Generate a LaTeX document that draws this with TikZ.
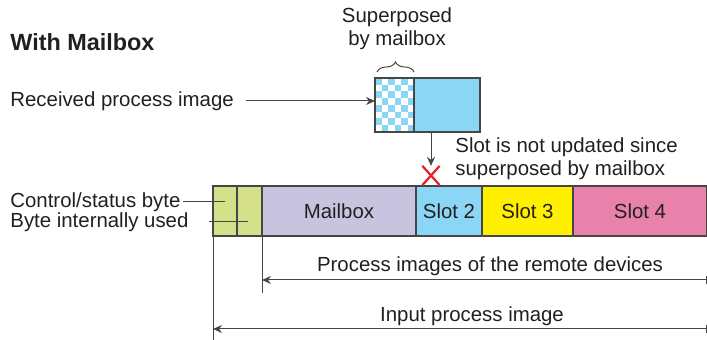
\documentclass[tikz,border=0pt]{standalone}
\usepackage{fontspec}
\setmainfont{Liberation Sans}
\usetikzlibrary{arrows.meta,decorations.pathreplacing,shapes.misc}

\definecolor{txtgray}{RGB}{35,31,32}
\definecolor{linegray}{RGB}{70,70,70}
\definecolor{ctrlgreen}{RGB}{212,224,138}
\definecolor{mailviolet}{RGB}{200,196,224}
\definecolor{slotblue}{RGB}{140,214,245}
\definecolor{slotyellow}{RGB}{255,240,0}
\definecolor{slotpink}{RGB}{232,130,170}
\definecolor{xred}{RGB}{230,30,40}

\tikzset{
  txt/.style={text=txtgray, inner sep=0pt, font=\fontsize{10.2}{11.5}\selectfont},
  cell/.style={draw=linegray, line width=0.6pt, minimum height=25pt, inner sep=0pt, outer sep=0pt,
    anchor=north west, text=txtgray, font=\fontsize{10.2}{11.5}\selectfont},
  conn/.style={draw=linegray, line width=0.5pt},
  arr/.style={conn, -{Stealth[length=4.5pt,width=4pt]}},
}

\begin{document}
\begin{tikzpicture}[x=0.5pt,y=-0.5pt]
	\useasboundingbox (0,0) rectangle (707,340);

	% title and texts on the left
	\node[txt, anchor=west, font=\fontsize{11.7}{14}\selectfont\bfseries] (title) at (10,42) {With Mailbox};
	\node[txt, anchor=west] (recv) at (10,101) {Received process image};
	\node[txt, anchor=west] (cstxt) at (10,202) {Control/status byte};
	\node[txt, anchor=west] (bitxt) at (10,222) {Byte internally used};

	% received process image with the superposed part
	\fill[slotblue] (375,78) rectangle (414,132);
	\foreach \i in {0,...,5}
		\foreach \j in {0,...,7}
			{\ifodd\numexpr\i+\j\relax \fill[white] ({375+6.5*\i},{78+6.75*\j}) rectangle ++(6.5,6.75); \fi}
	\fill[slotblue] (414,78) rectangle (480,132);
	\node[draw=linegray, line width=0.6pt, outer sep=0pt, anchor=north west, minimum width=52.5pt, minimum height=27pt, inner sep=0pt] (img) at (375,78) {};
	\draw[conn, line width=0.6pt] (414,78) -- (414,132);

	\draw[conn, decorate, decoration={brace, amplitude=5pt}] (377,72) -- (414,72);
	\node[txt, align=center] (sup) at (397,29) {Superposed\\by mailbox};

	\draw[arr, shorten <=6pt] (recv.east) -- (recv.east -| img.west);

	% input process image
	\node[cell, fill=ctrlgreen, minimum width=12pt] (cs) at (213,186) {};
	\node[cell, fill=ctrlgreen, minimum width=12.5pt] (bi) at (cs.north east) {};
	\node[cell, fill=mailviolet, minimum width=77pt] (mb) at (bi.north east) {Mailbox};
	\node[cell, fill=slotblue, minimum width=33pt] (s2) at (mb.north east) {Slot 2};
	\node[cell, fill=slotyellow, minimum width=45.5pt] (s3) at (s2.north east) {Slot 3};
	\node[cell, fill=slotpink, minimum width=67pt] (s4) at (s3.north east) {Slot 4};

	\coordinate (csend) at (225,202);
	\coordinate (biend) at (248,222);
	\draw[conn] ([xshift=1pt]cstxt.east) -- (csend);
	\draw[conn] ([xshift=10pt]bitxt.east) -- (biend);

	% slot not updated
	\node[cross out, draw=xred, line width=1.1pt, minimum width=7.5pt, minimum height=8.5pt, inner sep=0pt] (nox) at (431,175.5) {};
	\draw[arr] (img.south -| nox) -- (nox.north);
	\node[txt, align=left, anchor=west] (note) at (455,158.5) {Slot is not updated since\\superposed by mailbox};

	% dimension lines
	\coordinate (inbot) at (213,340);
	\coordinate (rembot) at (262,293);
	\coordinate (remend) at (707,280);
	\coordinate (inend) at (707,329);
	\draw[conn] (cs.south west) -- (cs.south west |- inbot);
	\draw[conn] (mb.south west) -- (mb.south west |- rembot);
	\draw[conn, {Stealth[length=4.5pt,width=4pt]}-{Bar[width=4pt]}] (mb.south west |- remend) -- (remend);
	\draw[conn, {Stealth[length=4.5pt,width=4pt]}-{Bar[width=4pt]}] (cs.south west |- inend) -- (inend);
	\node[txt] (remtxt) at (490,266) {Process images of the remote devices};
	\node[txt] (intxt) at (472,316) {Input process image};
\end{tikzpicture}
\end{document}
